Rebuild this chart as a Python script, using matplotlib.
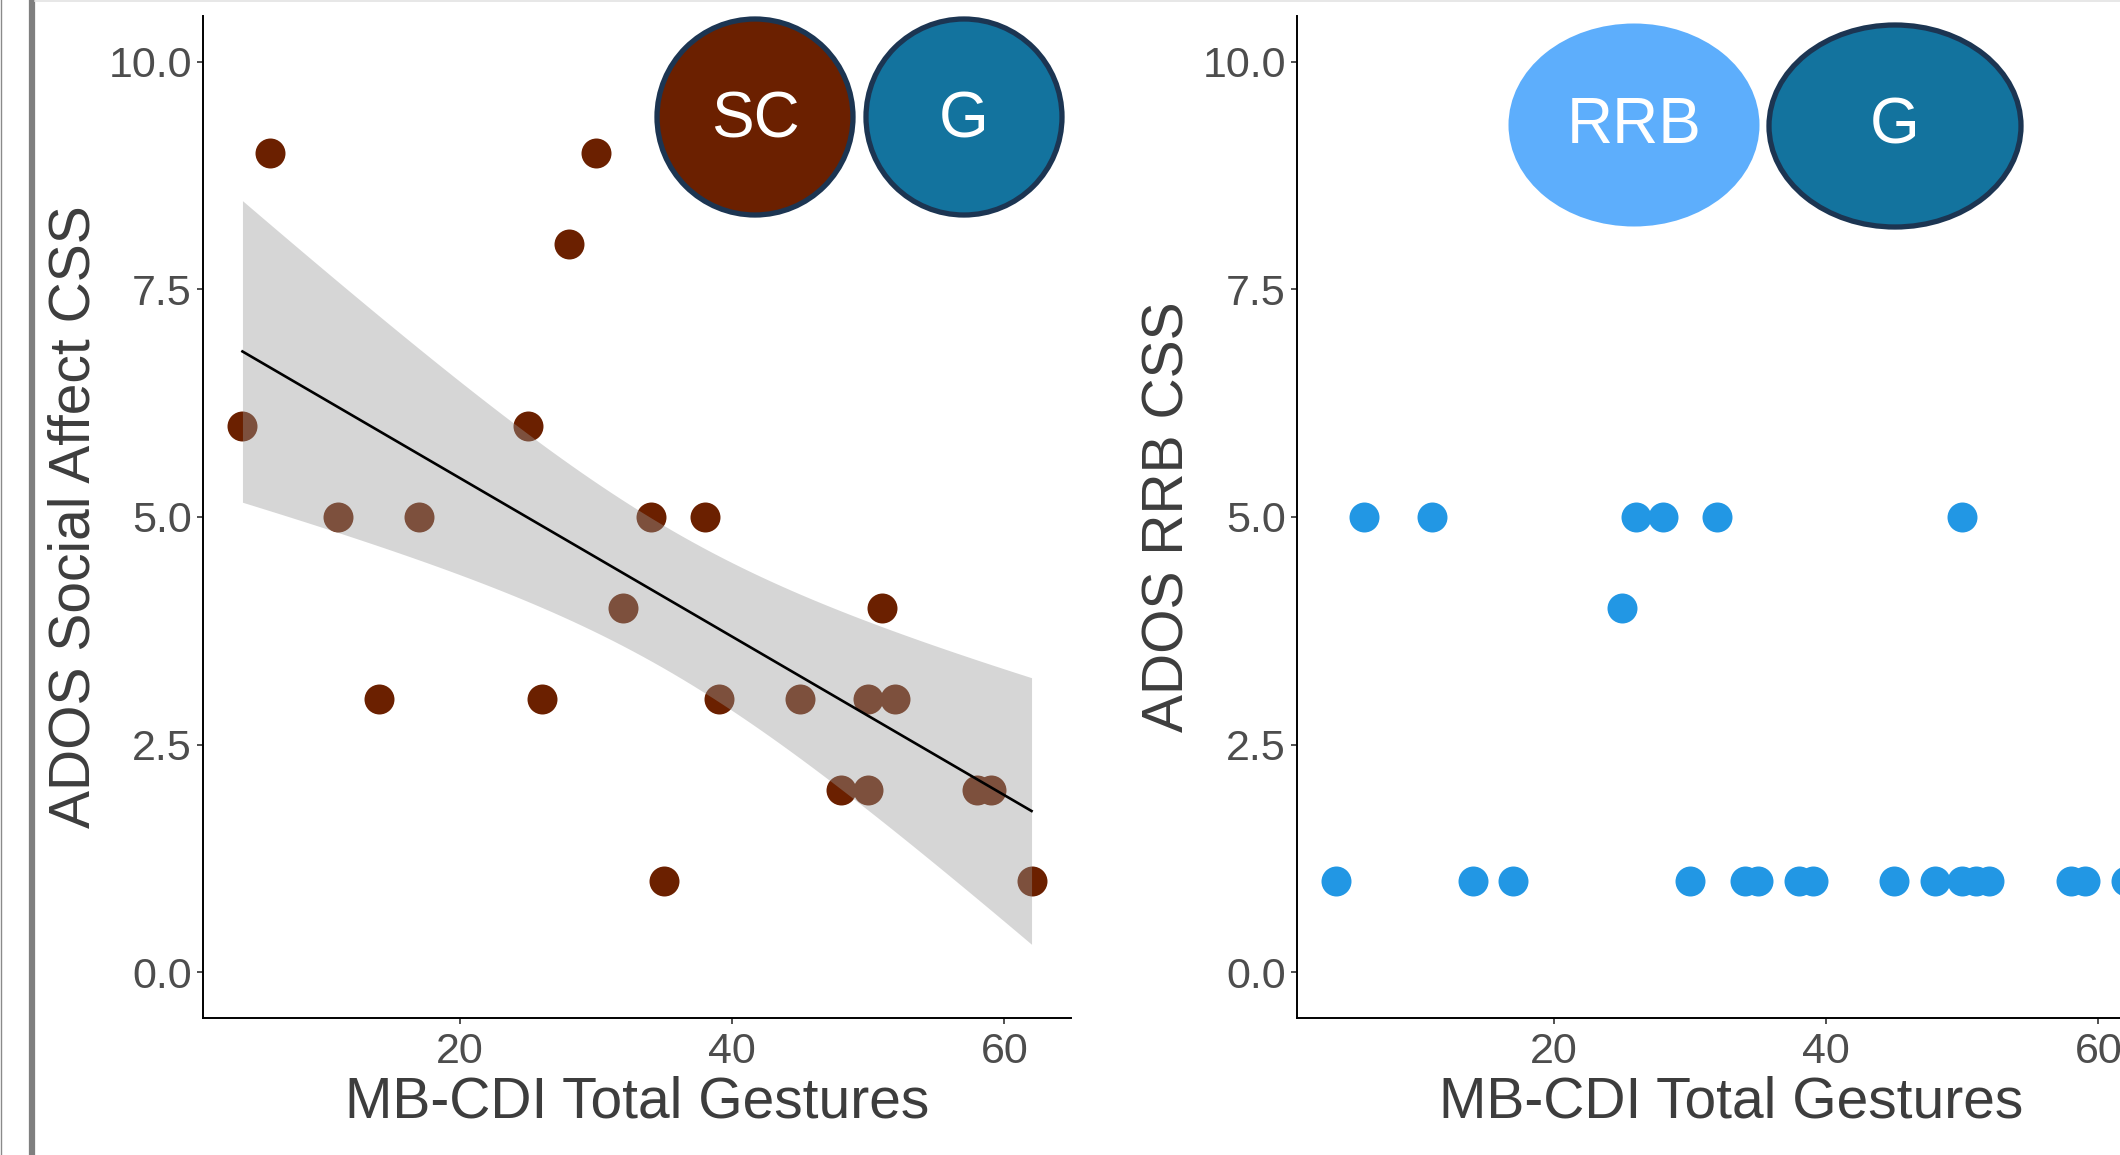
import numpy as np
import matplotlib
matplotlib.use('Agg')
import matplotlib.pyplot as plt
from matplotlib.patches import Ellipse

plt.rcParams['font.family'] = ['Liberation Sans', 'DejaVu Sans']

# MB-CDI total gestures per child, with the two ADOS scores
gestures = [4, 6, 11, 14, 17, 25, 26, 28, 30, 32, 34, 35, 38, 39, 45, 48, 50, 50, 51, 52, 58, 59, 62]
social_affect = [6, 9, 5, 3, 5, 6, 3, 8, 9, 4, 5, 1, 5, 3, 3, 2, 3, 2, 4, 3, 2, 2, 1]
rrb = [1, 5, 5, 1, 1, 4, 5, 5, 1, 5, 1, 1, 1, 1, 1, 1, 5, 1, 1, 1, 1, 1, 1]

y_ticks = [0, 2.5, 5, 7.5, 10]
y_tick_labels = ['0.0', '2.5', '5.0', '7.5', '10.0']
x_ticks = [20, 40, 60]

brown = '#6B2000'
teal = '#13739E'
sky = '#5DAEFC'
dot_blue = '#2297E4'
navy = '#1C3552'

W, H = 2120, 1155
fig = plt.figure(figsize=(W / 100, H / 100), dpi=100)


def style_axes(ax, ylabel):
    ax.set_xlim(1.1, 64.9)
    ax.set_ylim(-0.5, 10.5)
    ax.set_yticks(y_ticks)
    ax.set_yticklabels(y_tick_labels)
    ax.set_xticks(x_ticks)
    for s in ['top', 'right']:
        ax.spines[s].set_visible(False)
    for s in ['left', 'bottom']:
        ax.spines[s].set_linewidth(1.4)
        ax.spines[s].set_color('black')
    ax.tick_params(axis='both', length=4, width=1.2, color='#333333',
                   labelsize=31, labelcolor='#4D4D4D')
    ax.tick_params(axis='y', pad=4)
    ax.tick_params(axis='x', pad=6)
    ax.set_xlabel('MB-CDI Total Gestures', fontsize=41, color='#3D3D3D', va='baseline')
    ax.set_ylabel(ylabel, fontsize=41, color='#3D3D3D', va='center')
    ax.xaxis.set_label_coords(0.5, -0.0998)
    ax.yaxis.set_label_coords(-0.1486, 0.5)


# left panel: social affect with linear fit and 95% band
ax1 = fig.add_axes([203 / W, 137 / H, 868 / W, 1002 / H])
x = np.array(gestures, dtype=float)
y = np.array(social_affect, dtype=float)
ax1.scatter(x, y, s=466, color=brown, linewidths=0, zorder=2)

slope, icpt = np.polyfit(x, y, 1)
n = len(x)
resid = y - (slope * x + icpt)
s_err = np.sqrt(np.sum(resid ** 2) / (n - 2))
sxx = np.sum((x - x.mean()) ** 2)
t_crit = 2.0796  # t(0.975, df=21)
xs = np.linspace(x.min(), x.max(), 80)
fit = slope * xs + icpt
half = t_crit * s_err * np.sqrt(1 / n + (xs - x.mean()) ** 2 / sxx)
ax1.fill_between(xs, fit - half, fit + half, color='#999999', alpha=0.4,
                 linewidth=0, zorder=3)
ax1.plot(xs, fit, color='black', linewidth=1.9, zorder=4)
style_axes(ax1, 'ADOS Social Affect CSS')

# right panel: RRB
ax2 = fig.add_axes([1297 / W, 137 / H, 868 / W, 1002 / H])
ax2.scatter(gestures, rrb, s=466, color=dot_blue, linewidths=0, zorder=2)
style_axes(ax2, 'ADOS RRB CSS')

# overlay in pixel units for the frame lines and the label bubbles
ov = fig.add_axes([0, 0, 1, 1])
ov.set_xlim(0, W)
ov.set_ylim(H, 0)
ov.axis('off')
ov.axvline(0.5, color='#8A8A8A', linewidth=1.0)
ov.axvline(32, color='#7F7F7F', linewidth=4.5)
ov.plot([35, W], [0.7, 0.7], color='#E3E3E3', linewidth=1.2)

bubbles = [
    ('SC', 755, 117, 196, 196, brown, navy, 138),
    ('G', 964, 117, 196, 196, teal, navy, 138),
    ('RRB', 1634, 125, 251, 203, sky, 'none', 143),
    ('G', 1895, 126, 252, 202, teal, navy, 143),
]
for label, cx, cy, w, h, fc, ec, base in bubbles:
    ov.add_patch(Ellipse((cx, cy), w, h, facecolor=fc, edgecolor=ec,
                         linewidth=3.8 if ec != 'none' else 0))
    ov.text(cx, base, label, color='white', fontsize=46, ha='center', va='baseline')

fig.savefig('out.png', dpi=100)
